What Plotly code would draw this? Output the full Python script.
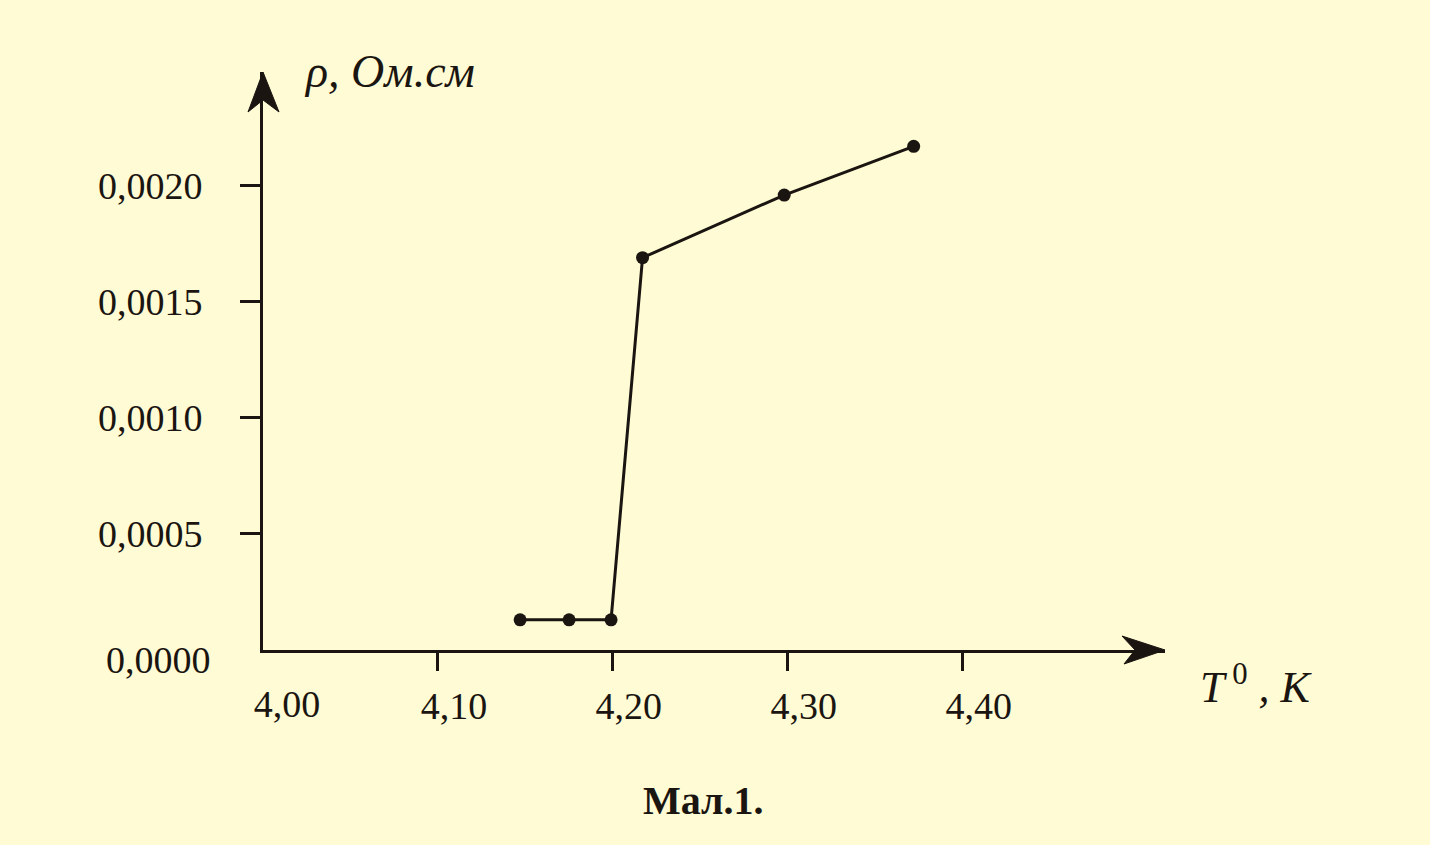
import plotly.graph_objects as go

# ---- data ----
temperature_K = [4.147, 4.175, 4.199, 4.217, 4.298, 4.372]
resistivity = [0.00013, 0.00013, 0.00013, 0.00169, 0.00196, 0.00217]

x_tick_vals = [4.10, 4.20, 4.30, 4.40]
x_tick_text = ["4,10", "4,20", "4,30", "4,40"]
x_origin_val = [4.00]
x_origin_text = ["4,00"]

y_tick_vals = [0.0005, 0.0010, 0.0015, 0.0020]
y_tick_text = ["0,0005", "0,0010", "0,0015", "0,0020"]
y_origin_val = [0.0]
y_origin_text = ["0,0000"]

y_title = "<i>ρ, Ом.см</i>"
x_title = "<i>T</i><sup> 0</sup><i> , K</i>"
caption = "<b>Мал.1.</b>"

# ---- style ----
INK = "#1a1511"
BG = "#fffbd4"
FONT = "Liberation Serif"
X_RANGE = [4.0, 4.5157]
Y_RANGE = [0.0, 0.00249]

W, H = 1430, 845
L, R, T, B = 263, 265, 72, 195
pw, ph = W - L - R, H - T - B


def px(xp):
    return (xp - L) / pw


def py(yp):
    return (H - B - yp) / ph


fig = go.Figure()
fig.add_trace(go.Scatter(
    x=temperature_K, y=resistivity, mode="lines+markers",
    line=dict(color=INK, width=3),
    marker=dict(color=INK, size=13),
    showlegend=False, hoverinfo="x+y",
))
# empty trace so the overlay axes (origin labels) are drawn
fig.add_trace(go.Scatter(x=[], y=[], xaxis="x2", yaxis="y2", showlegend=False))

tick_font = dict(family=FONT, size=38, color=INK)

fig.update_layout(
    width=W, height=H,
    margin=dict(l=L, r=R, t=T, b=B),
    paper_bgcolor=BG, plot_bgcolor=BG,
    xaxis=dict(
        range=X_RANGE, showgrid=False, zeroline=False,
        showline=True, linecolor=INK, linewidth=3,
        tickvals=x_tick_vals, ticktext=x_tick_text,
        ticks="outside", ticklen=18, tickwidth=3, tickcolor=INK,
        tickfont=tick_font, ticklabelshift=16, ticklabelstandoff=2,
    ),
    yaxis=dict(
        range=Y_RANGE, showgrid=False, zeroline=False,
        showline=True, linecolor=INK, linewidth=3,
        tickvals=y_tick_vals, ticktext=y_tick_text,
        ticks="outside", ticklen=20, tickwidth=3, tickcolor=INK,
        tickfont=tick_font, ticklabelstandoff=30,
    ),
    xaxis2=dict(
        range=X_RANGE, overlaying="x", anchor="y2", side="bottom",
        showgrid=False, zeroline=False, showline=False,
        tickvals=x_origin_val, ticktext=x_origin_text,
        ticks="outside", ticklen=18, tickcolor="rgba(0,0,0,0)",
        tickfont=tick_font, ticklabelshift=24, ticklabelstandoff=2,
    ),
    yaxis2=dict(
        range=Y_RANGE, overlaying="y", anchor="x2", side="left",
        showgrid=False, zeroline=False, showline=False,
        tickvals=y_origin_val, ticktext=y_origin_text,
        ticks="outside", ticklen=20, tickcolor="rgba(0,0,0,0)",
        tickfont=tick_font, ticklabelstandoff=24, ticklabelshift=10,
    ),
    shapes=[
        # arrowhead on top of the y axis
        dict(type="path", xref="paper", yref="paper",
             xsizemode="pixel", ysizemode="pixel", xanchor=0, yanchor=1,
             path="M0,0 L-15,-40 L0,-28 L16,-40 Z",
             fillcolor=INK, line=dict(color=INK, width=1)),
        # arrowhead at the right end of the x axis
        dict(type="path", xref="paper", yref="paper",
             xsizemode="pixel", ysizemode="pixel", xanchor=1, yanchor=0,
             path="M0,0 L-43,14 L-30,0 L-41,-14 Z",
             fillcolor=INK, line=dict(color=INK, width=1)),
    ],
    annotations=[
        dict(xref="paper", yref="paper", x=px(302), y=py(71),
             xanchor="left", yanchor="middle", text=y_title, showarrow=False,
             font=dict(family=FONT, size=46, color=INK)),
        dict(xref="paper", yref="paper", x=px(1198), y=py(684),
             xanchor="left", yanchor="middle", text=x_title, showarrow=False,
             font=dict(family=FONT, size=44, color=INK)),
        dict(xref="paper", yref="paper", x=px(703), y=py(800),
             xanchor="center", yanchor="middle", text=caption, showarrow=False,
             font=dict(family=FONT, size=40, color=INK)),
    ],
)

fig.write_html(
    "out.html",
    config={"displayModeBar": False},
    post_script="document.body.style.margin='0';"
                "document.body.style.background='" + BG + "';",
)
